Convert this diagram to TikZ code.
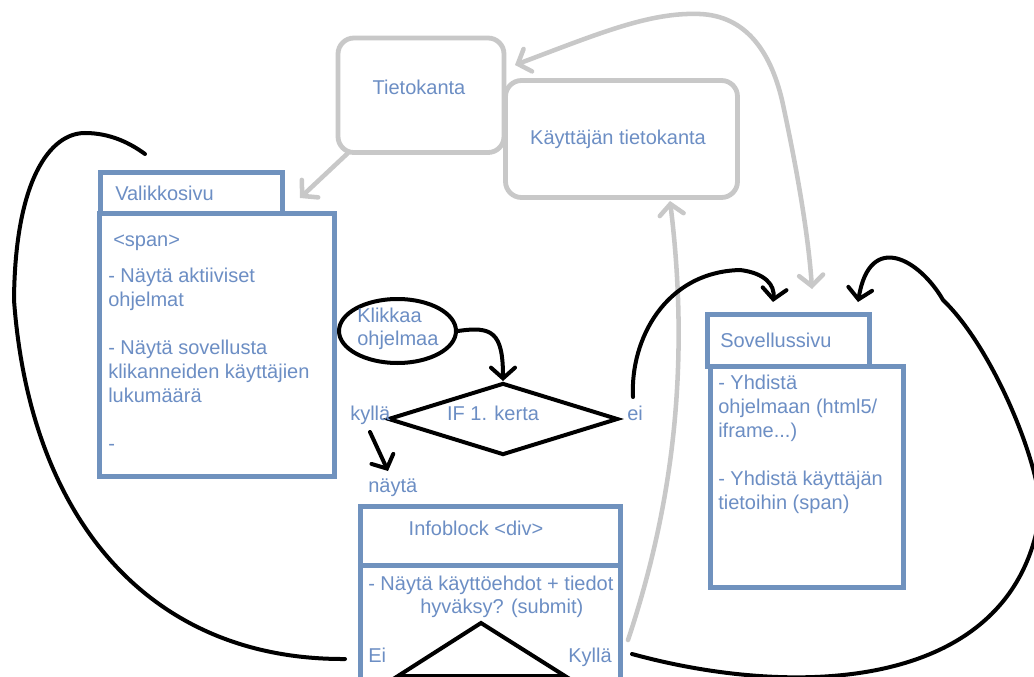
\documentclass[tikz,border=0pt]{standalone}
\usepackage{fontspec}
\setmainfont{Liberation Sans}
\usetikzlibrary{arrows.meta,shapes.geometric}
\definecolor{bbox}{RGB}{112,146,190}
\definecolor{btext}{RGB}{108,142,196}
\definecolor{gline}{RGB}{200,200,200}
\begin{document}
\begin{tikzpicture}[x=0.75pt,y=-0.75pt,
  txt/.style={text=btext, font=\fontsize{15}{18}\selectfont, inner sep=0pt, anchor=base west},
  txtc/.style={txt, anchor=base},
  txtr/.style={txt, anchor=base east},
  bluebox/.style={draw=bbox, line width=3.75pt, fill=white, rectangle, inner sep=0pt, outer sep=0pt, anchor=north west},
  graybox/.style={draw=gline, line width=3.6pt, fill=white, rectangle, rounded corners=12pt, inner sep=0pt, outer sep=0pt, anchor=north west},
  gconn/.style={draw=gline, line width=3.4pt, line cap=round},
  gtip/.style={-{Straight Barb[length=8pt,width=18pt,line cap=round]}},
  gtwo/.style={{Straight Barb[length=8pt,width=18pt,line cap=round]}-{Straight Barb[length=8pt,width=18pt,line cap=round]}},
  bconn/.style={draw=black, line width=3pt, line cap=round},
  btip/.style={-{Straight Barb[length=8pt,width=18pt,line cap=round]}},
]
\useasboundingbox (0,0) rectangle (1034,677);
\fill[white] (0,0) rectangle (1034,677);
\clip (0,0) rectangle (1034,677);

% --- gray database boxes
\node[graybox, minimum width=124.5pt, minimum height=85.9pt] (tk) at (338,38) {};
\node[txtc] (tkt) at (419,95) {Tietokanta};
\node[graybox, minimum width=174pt, minimum height=87.75pt] (ktk) at (505.5,80.5) {};
\node[txtc] (ktkt) at (618,145) {Käyttäjän tietokanta};

% --- Valikkosivu
\node[bluebox, minimum width=136.5pt, minimum height=31.1pt] (vh) at (100,172.5) {};
\node[bluebox, minimum width=175.9pt, minimum height=196.5pt] (vb) at (99.5,214) {};
\node[txt] (vht) at (115,201) {Valikkosivu};
\node[txt] (v0) at (113,247) {<span>};
\node[txt] (v1) at (108,282) {- Näytä aktiiviset};
\node[txt] (v2) at (108,306) {ohjelmat};
\node[txt] (v3) at (108,354) {- Näytä sovellusta};
\node[txt] (v4) at (108,378) {klikanneiden käyttäjien};
\node[txt] (v5) at (108,402) {lukumäärä};
\node[txt] (v6) at (108,450) {-};

% --- Sovellussivu
\node[bluebox, minimum width=121.5pt, minimum height=39pt] (sh) at (707,314) {};
\node[bluebox, minimum width=145pt, minimum height=166.1pt] (sb) at (710,366) {};
\node[txt] (sht) at (720,347) {Sovellussivu};
\node[txt] (s1) at (718,389) {- Yhdistä};
\node[txt] (s2) at (718,413) {ohjelmaan (html5/};
\node[txt] (s3) at (718,437) {iframe...)};
\node[txt] (s4) at (718,485) {- Yhdistä käyttäjän};
\node[txt] (s5) at (718,509) {tietoihin (span)};

% --- Infoblock
\node[bluebox, minimum width=194.8pt, minimum height=44.4pt] (ibh) at (360.3,506.3) {};
\node[bluebox, minimum width=194.8pt, minimum height=115.9pt] (ibb) at (360.3,565.5) {};
\node[txtc] (ibt) at (476,535) {Infoblock <div>};
\node[txt] (i1) at (368,590) {- Näytä käyttöehdot + tiedot};
\node[txt] (i2) at (420,613) {hyväksy? (submit)};
\node[txt] (iei) at (368,662) {Ei};
\node[txtr] (ikyl) at (612,662) {Kyllä};
\draw[bconn, line join=miter] (398,676) -- (481,623) -- (565,676) -- cycle;

% --- Klikkaa / IF
\node[draw=black, line width=3pt, ellipse, inner sep=0pt, minimum width=87.75pt, minimum height=48pt] (ell) at (397.5,331) {};
\node[txt] (k1) at (357,322) {Klikkaa};
\node[txt] (k2) at (357,345) {ohjelmaa};
\node[draw=black, line width=3pt, diamond, inner sep=0pt, minimum width=172.5pt, minimum height=54pt] (dia) at (503,419) {};
\node[txtc] (ift) at (493,420) {IF 1. kerta};
\node[txt] (kyl) at (350,420) {kyllä};
\node[txt] (eit) at (627,420) {ei};
\node[txt] (nay) at (368,492) {näytä};

% --- free connector ends
\coordinate (g1s) at (348,153);
\coordinate (g1e) at (300,198);
\coordinate (g2s) at (515,65);
\coordinate (g2e) at (812,289);
\coordinate (g3s) at (628,640);
\coordinate (g3e) at (670,201);
\coordinate (b1s) at (345,659);
\coordinate (b1e) at (145,154);
\coordinate (b3s) at (633,397);
\coordinate (b3e) at (773,302);
\coordinate (b4s) at (632,654);
\coordinate (b4e) at (858,302);
\coordinate (b5s) at (370,432);
\coordinate (b5e) at (388,471);

% --- gray connectors
\draw[gconn, gtip] (g1s) -- (g1e);
\draw[gconn, gtwo]
  (g2s) .. controls (600,33) and (650,12) .. (700,14)
        .. controls (745,16) and (770,50) .. (782,100)
        .. controls (795,160) and (808,230) .. (g2e);
\draw[gconn, gtip] (g3s) .. controls (668,520) and (692,380) .. (g3e);

% --- black connectors
\draw[bconn] (b1s) .. controls (150,660) and (30,520) .. (14,300)
  .. controls (15,180) and (50,133) .. (85,133)
  .. controls (110,133) and (130,143) .. (b1e);
\draw[bconn, btip] (ell.east) .. controls (492,326) and (503,332) .. (dia.north);
\draw[bconn, btip] (b3s) .. controls (630,340) and (665,272) .. (740,270)
  .. controls (765,273) and (775,285) .. (b3e);
\draw[bconn, btip] (b4s) .. controls (800,700) and (1015,690) .. (1040,513)
  .. controls (1042,470) and (995,350) .. (943,300)
  .. controls (920,260) and (870,230) .. (b4e);
\draw[bconn, btip] (b5s) -- (b5e);
\end{tikzpicture}
\end{document}
